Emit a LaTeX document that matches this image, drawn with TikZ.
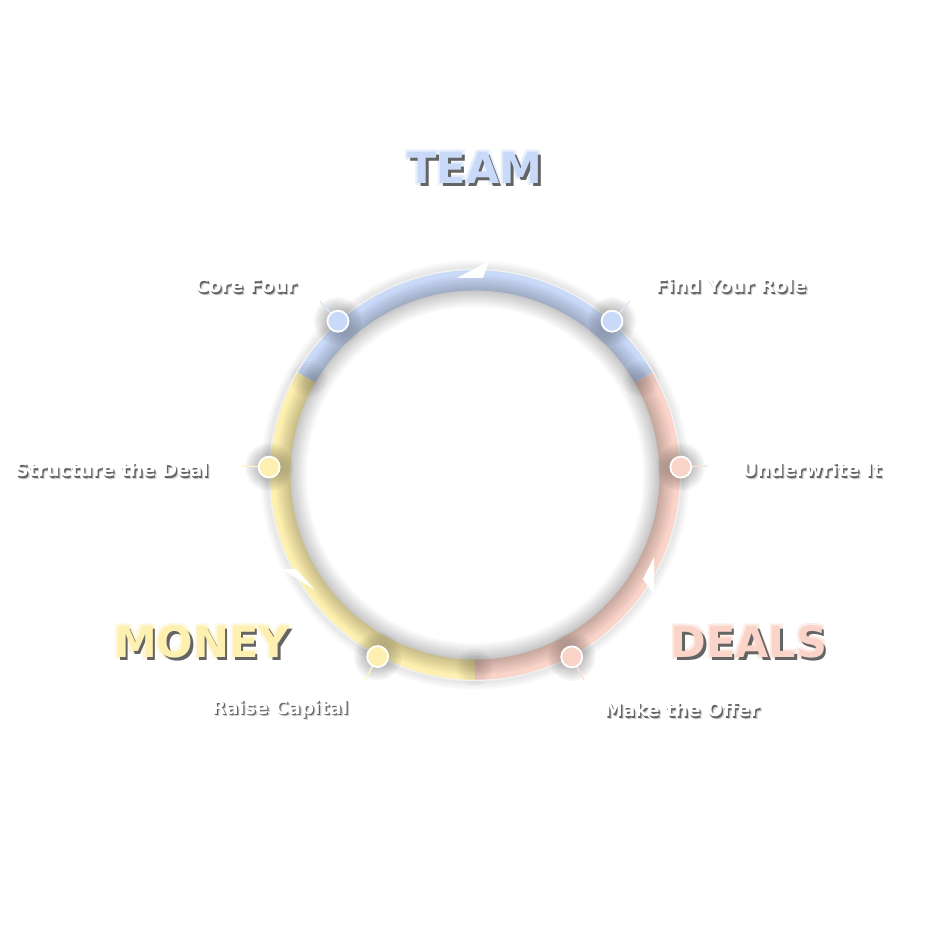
\documentclass[tikz,border=0pt]{standalone}
\usepackage{fontspec}
\setmainfont{DejaVu Sans}

\definecolor{teamblue}{RGB}{201,218,248}
\definecolor{moneyyellow}{RGB}{253,240,176}
\definecolor{dealspink}{RGB}{250,212,200}
\definecolor{shadowgray}{RGB}{100,100,100}

\tikzset{
  hub/.style={circle, draw=white, line width=1.8pt, minimum size=21pt, inner sep=0pt},
  steplabel/.style={font=\bfseries\fontsize{18.5}{18.5}\selectfont},
  bigword/.style={font=\bfseries\fontsize{43}{43}\selectfont},
}

\begin{document}
\begin{tikzpicture}[x=1pt,y=1pt]

\fill[white] (-475,-475) rectangle (475,475);
\useasboundingbox (-475,-475) rectangle (475,475);

% soft shadow outside the ring
\foreach \w in {2,4,...,16} {
    \draw[black, opacity=0.01, line width=\w pt] (0,0) circle (207pt);
}

% the three arcs of the ring
\draw[teamblue, line width=21pt] (30:195) arc[start angle=30, end angle=150, radius=195pt];
\draw[moneyyellow, line width=21pt] (150:195) arc[start angle=150, end angle=270, radius=195pt];
\draw[dealspink, line width=21pt] (270:195) arc[start angle=270, end angle=390, radius=195pt];

% inner shadow of the ring
\foreach \w in {2,5,...,32} {
    \draw[black, opacity=0.02, line width=\w pt] (0,0) circle (184pt);
}

% darker spots where two arcs meet
\foreach \a in {30,150,270} {
    \foreach \r in {6,9,...,18} {
        \fill[black, opacity=0.03] (\a:192) circle (\r pt);
    }
}

% thin light edge of the ring
\draw[white!88!gray, line width=1.4pt] (0,0) circle (205.5pt);

% arrow tips on the ring
\fill[white] (14,214) -- (-18,197) -- (8,197) -- cycle;
\fill[white] (179,-82) -- (168,-104) -- (179,-120) -- cycle;
\fill[white] (-193,-94) -- (-179,-94) -- (-160,-115) -- cycle;

% the six steps: dot, tick and glow
\foreach \a/\c/\n in {131.7/teamblue/core, 48.3/teamblue/role, 177.8/moneyyellow/struct,
                      2.2/dealspink/under, -118.2/moneyyellow/raise, -62/dealspink/offer} {
    \foreach \r in {12,14,...,24} {
        \fill[black, opacity=0.035] (\a:206) circle (\r pt);
    }
    \coordinate (\n-tip) at (\a:233);
    \draw[\c!70!white, line width=1.3pt] (\a:206) -- (\n-tip);
    \node[hub, fill=\c] (\n) at (\a:206) {};
}

% step labels
\foreach \x/\y/\t/\n in {-229/189/Core Four/lcore, 256/189/Find Your Role/lrole,
                         -363/5/Structure the Deal/lstruct, 337/5/Underwrite It/lunder,
                         -195/-234/Raise Capital/lraise, 207/-235/Make the Offer/loffer} {
    \node[steplabel, text=shadowgray, opacity=0.3] at (\x+2.4,\y-2.4) {\t};
    \node[steplabel, text=shadowgray] at (\x+1.3,\y-1.3) {\t};
    \node[steplabel, text=white] (\n) at (\x,\y) {\t};
}

% the three big words
\foreach \x/\y/\t/\c/\n in {0/307/TEAM/teamblue/team, -273/-167/MONEY/moneyyellow/money,
                            274/-167/DEALS/dealspink/deals} {
    \foreach \d in {45,135,225,315} {
        \node[bigword, text=\c!45!white, xshift={3*cos(\d)}, yshift={3*sin(\d)}] at (\x,\y) {\t};
    }
    \node[bigword, text=shadowgray] at (\x+2.5,\y-2.5) {\t};
    \node[bigword, text=\c] (\n) at (\x,\y) {\t};
}

\end{tikzpicture}
\end{document}
